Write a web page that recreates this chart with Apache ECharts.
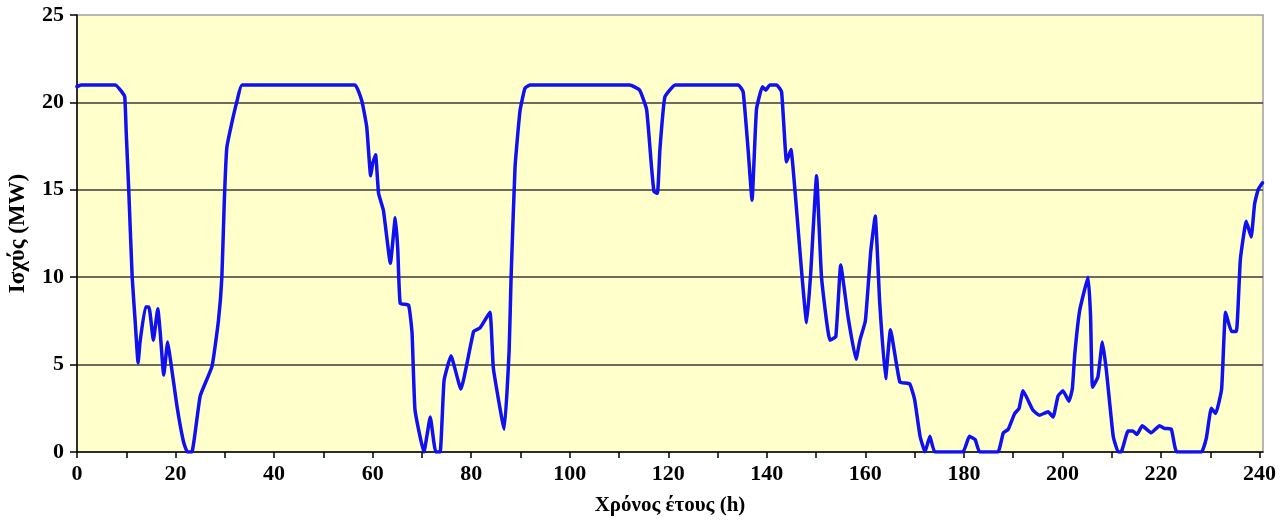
<!DOCTYPE html>
<html>
<head>
<meta charset="utf-8">
<title>Ισχύς (MW)</title>
<script src="https://cdn.jsdelivr.net/npm/echarts@6/dist/echarts.min.js"></script>
<style>
  html, body { margin: 0; padding: 0; background: #ffffff; }
  #chart { width: 1283px; height: 527px; }
</style>
</head>
<body>
<div id="chart"></div>
<script>
// Hourly power output over the period (h, MW)
const hours = [
  0, 0.8, 7.8, 9.1, 9.7, 10.0, 10.5, 11.2, 11.8, 12.4, 12.8, 13.9, 14.6, 15.5, 16.4, 16.9, 17.6, 18.4, 18.9, 20.3,
  21.6, 22.4, 23.3, 25.0, 27.4, 28.7, 29.4, 29.9, 30.4, 31.4, 32.5, 33.5, 56.4, 57.8, 58.8, 59.6, 60.0, 60.6, 61.2, 62.2,
  63.6, 64.6, 65.1, 65.6, 67.3, 68.0, 68.6, 70.4, 71.7, 72.4, 72.8, 73.7, 74.5, 75.9, 77.9, 80.5, 81.8, 83.8, 84.5, 86.7,
  87.7, 88.1, 88.9, 89.9, 90.9, 91.9, 112.2, 114.2, 115.6, 116.6, 117.1, 117.8, 118.3, 119.3, 121.4, 134.2, 135.2, 136.2, 137.0, 137.9,
  139.1, 139.8, 140.6, 142.0, 143.0, 144.0, 144.9, 145.7, 148.1, 148.9, 150.1, 151.1, 152.8, 154.0, 155.0, 156.5, 158.1, 158.9, 160.0, 161.1,
  162.0, 162.9, 164.1, 165.1, 167.0, 169.0, 170.0, 171.1, 172.1, 173.1, 174.1, 179.8, 181.1, 182.3, 183.2, 186.9, 188.0, 189.0, 190.3, 191.2,
  192.0, 194.0, 195.3, 197.1, 198.1, 199.1, 200.1, 201.3, 202.0, 202.5, 203.5, 205.2, 205.7, 206.1, 207.2, 208.1, 208.9, 210.3, 211.3, 211.9,
  213.3, 214.3, 215.1, 216.2, 218.0, 219.7, 220.7, 222.1, 223.2, 228.2, 229.2, 230.2, 231.1, 232.3, 233.1, 234.3, 235.3, 236.1, 237.3, 238.3,
  239.0, 239.7, 240.6
];
const power = [
  20.9, 21.0, 21.0, 20.6, 20.3, 18.2, 15.0, 10.0, 7.5, 5.1, 6.3, 8.3, 8.3, 6.4, 8.2, 6.8, 4.4, 6.3, 5.4, 2.6,
  0.6, 0, 0, 3.2, 4.9, 7.5, 10.0, 14.4, 17.4, 18.8, 20.1, 21.0, 21.0, 20.1, 18.6, 15.8, 16.5, 17.0, 14.8, 13.8,
  10.8, 13.4, 11.6, 8.5, 8.4, 6.8, 2.4, 0, 2.0, 0.6, 0, 0, 4.1, 5.5, 3.6, 6.9, 7.1, 8.0, 4.8, 1.3,
  5.8, 10.0, 16.3, 19.5, 20.8, 21.0, 21.0, 20.7, 19.6, 16.3, 14.9, 14.8, 17.3, 20.3, 21.0, 21.0, 20.6, 17.3, 14.4, 19.6,
  20.9, 20.7, 21.0, 21.0, 20.6, 16.6, 17.3, 15.0, 7.4, 10.2, 15.8, 10.0, 6.4, 6.6, 10.7, 7.7, 5.3, 6.4, 7.5, 11.5,
  13.5, 8.6, 4.2, 7.0, 4.0, 3.9, 3.0, 0.9, 0, 0.9, 0, 0, 0.9, 0.7, 0, 0, 1.1, 1.3, 2.2, 2.5,
  3.5, 2.4, 2.1, 2.3, 2.0, 3.2, 3.5, 2.9, 3.6, 5.6, 8.1, 10.0, 7.8, 3.7, 4.3, 6.3, 4.7, 0.9, 0, 0,
  1.2, 1.2, 1.0, 1.5, 1.1, 1.5, 1.35, 1.3, 0, 0, 0.8, 2.5, 2.2, 3.6, 8.0, 6.9, 6.9, 11.0, 13.2, 12.3,
  14.2, 15.0, 15.4
];

// Axis ticks and labels
const xTicks = [0, 10, 20, 30, 40, 50, 60, 70, 80, 90, 100, 110, 120, 130, 140, 150, 160, 170, 180, 190, 200, 210, 220, 230, 240];
const xTickLabels = [0, 20, 40, 60, 80, 100, 120, 140, 160, 180, 200, 220, 240];
const yTickLabels = [0, 5, 10, 15, 20, 25];

const xName = 'Χρόνος έτους (h)';
const yName = 'Ισχύς (MW)';

const seriesData = hours.map((h, i) => [h, power[i]]);

const serif = '"Liberation Serif", "DejaVu Serif", serif';

const chart = echarts.init(document.getElementById('chart'), null, { renderer: 'canvas' });

chart.setOption({
  animation: false,
  backgroundColor: '#ffffff',
  grid: {
    left: 77,
    right: 20,
    top: 15,
    bottom: 75,
    outerBoundsMode: 'none',
    containLabel: false,
    show: true,
    backgroundColor: '#FFFFCC',
    borderColor: '#a0a0a0',
    borderWidth: 1.5
  },
  xAxis: {
    type: 'value',
    min: 0,
    max: 240.7,
    interval: 10,
    name: xName,
    nameLocation: 'middle',
    nameGap: 43,
    nameTextStyle: { fontFamily: serif, fontWeight: 'bold', fontSize: 21, color: '#000' },
    axisLine: { show: true, onZero: false, lineStyle: { color: '#000', width: 1.5 } },
    axisTick: {
      show: true,
      inside: false,
      length: 6,
      customValues: xTicks,
      lineStyle: { color: '#000', width: 1.5 }
    },
    axisLabel: {
      customValues: xTickLabels,
      margin: 11,
      fontFamily: serif,
      fontWeight: 'bold',
      fontSize: 22,
      color: '#000',
      formatter: v => (xTickLabels.indexOf(v) >= 0 ? String(v) : '')
    },
    splitLine: { show: false }
  },
  yAxis: {
    type: 'value',
    min: 0,
    max: 25,
    interval: 5,
    name: yName,
    nameLocation: 'middle',
    nameGap: 47,
    nameRotate: 90,
    nameTextStyle: { fontFamily: serif, fontWeight: 'bold', fontSize: 23, color: '#000' },
    axisLine: { show: true, lineStyle: { color: '#000', width: 1.5 } },
    axisTick: {
      show: true,
      inside: false,
      length: 7,
      customValues: yTickLabels,
      lineStyle: { color: '#000', width: 1.5 }
    },
    axisLabel: {
      customValues: yTickLabels,
      margin: 13,
      fontFamily: serif,
      fontWeight: 'bold',
      fontSize: 22,
      color: '#000'
    },
    splitLine: {
      show: true,
      showMinLine: false,
      showMaxLine: false,
      lineStyle: { color: '#3a3a3a', width: 1.5 }
    }
  },
  series: [{
    type: 'line',
    data: seriesData,
    showSymbol: false,
    smooth: 0.12,
    clip: true,
    lineStyle: { color: '#1010F0', width: 3.5, join: 'round', cap: 'round' },
    itemStyle: { color: '#1010F0' }
  }]
});
</script>
</body>
</html>
